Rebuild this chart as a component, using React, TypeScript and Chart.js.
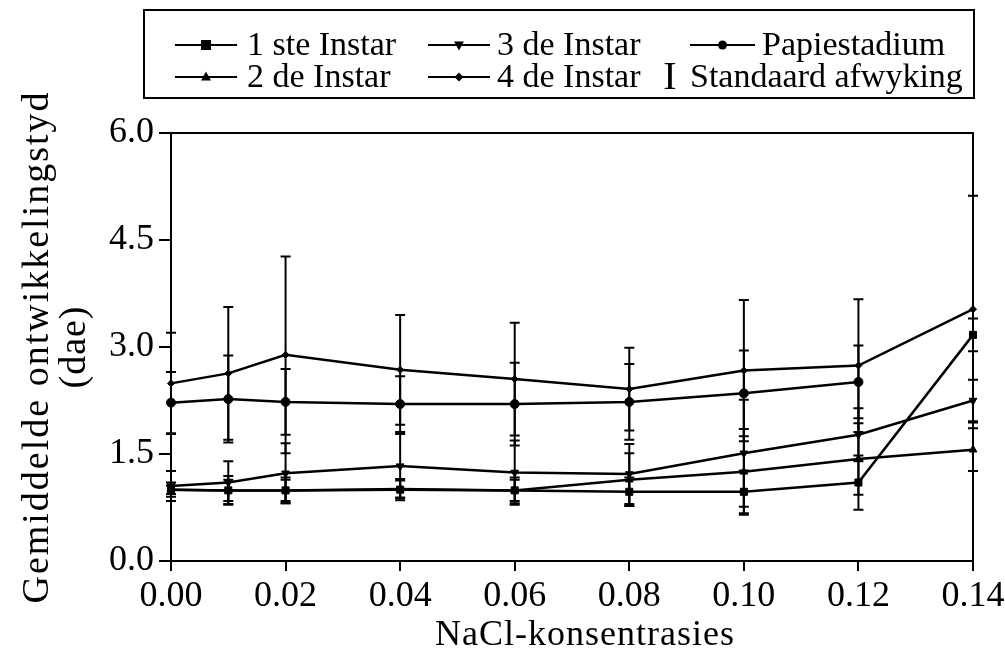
import { useEffect, useRef } from 'react';
import { Chart, registerables } from 'chart.js';

Chart.register(...registerables);

// NaCl concentrations (x values)
const concentrations = [0, 0.01, 0.02, 0.04, 0.06, 0.08, 0.1, 0.12, 0.14];
const xTickValues = [0, 0.02, 0.04, 0.06, 0.08, 0.1, 0.12, 0.14];
const yTickValues = [0, 1.5, 3, 4.5, 6];

// Mean development time (days) and standard deviations per stage
const instar1 = [1.0, 0.99, 0.99, 1.0, 0.99, 0.97, 0.97, 1.1, 3.17];
const instar1Sd = [0.1, 0.2, 0.18, 0.15, 0.18, 0.2, 0.3, 0.38, 0.23];
const instar2 = [1.0, 0.99, 0.99, 1.01, 0.99, 1.14, 1.25, 1.43, 1.56];
const instar2Sd = [0.06, 0.15, 0.15, 0.12, 0.15, 0.37, 0.6, 0.5, 0.3];
const instar3 = [1.05, 1.1, 1.23, 1.33, 1.24, 1.22, 1.51, 1.77, 2.25];
const instar3Sd = [0.21, 0.3, 0.42, 0.45, 0.45, 0.42, 0.75, 0.37, 0.29];
const instar4 = [2.49, 2.63, 2.89, 2.68, 2.55, 2.41, 2.67, 2.74, 3.53];
const instar4Sd = [0.71, 0.93, 1.38, 0.77, 0.79, 0.58, 0.99, 0.93, 1.59];
const pupa = [2.22, 2.27, 2.23, 2.2, 2.2, 2.23, 2.35, 2.51, null];
const pupaSd = [0.43, 0.61, 0.46, 0.39, 0.58, 0.53, 0.6, 0.51, null];

const seriesNames = ['1 ste Instar', '2 de Instar', '3 de Instar', '4 de Instar', 'Papiestadium'];
const errorLabel = 'Standaard afwyking';
const xTitle = 'NaCl-konsentrasies';
const yTitle = ['Gemiddelde ontwikkelingstyd', '(dae)'];

const FONT = '"Liberation Serif", "Times New Roman", serif';

type Marker = { style: any; radius: number; rotation: number };
const markers: Marker[] = [
  { style: 'rect', radius: 5, rotation: 0 },
  { style: 'triangle', radius: 4.5, rotation: 0 },
  { style: 'triangle', radius: 4.5, rotation: 180 },
  { style: 'rectRot', radius: 3.5, rotation: 0 },
  { style: 'circle', radius: 4.5, rotation: 0 },
];

const seriesValues = [instar1, instar2, instar3, instar4, pupa];
const seriesSds = [instar1Sd, instar2Sd, instar3Sd, instar4Sd, pupaSd];

const errorBarPlugin = {
  id: 'errorBars',
  afterDatasetsDraw(chart: any) {
    const { ctx, scales } = chart;
    const xs = scales.x;
    const ys = scales.y;
    ctx.save();
    ctx.strokeStyle = '#000';
    ctx.lineWidth = 2;
    chart.data.datasets.forEach((ds: any) => {
      const sds = ds.sd as (number | null)[];
      ds.data.forEach((p: any, i: number) => {
        if (p.y == null || sds[i] == null) return;
        const px = xs.getPixelForValue(p.x);
        const top = ys.getPixelForValue(p.y + (sds[i] as number));
        const bot = ys.getPixelForValue(p.y - (sds[i] as number));
        ctx.beginPath();
        ctx.moveTo(px, top);
        ctx.lineTo(px, bot);
        ctx.moveTo(px - 5, top);
        ctx.lineTo(px + 5, top);
        ctx.moveTo(px - 5, bot);
        ctx.lineTo(px + 5, bot);
        ctx.stroke();
      });
    });
    ctx.restore();
  },
};

function drawMarker(ctx: CanvasRenderingContext2D, m: Marker, x: number, y: number) {
  const r = m.radius;
  ctx.save();
  ctx.translate(x, y);
  ctx.rotate((m.rotation * Math.PI) / 180);
  ctx.fillStyle = '#000';
  ctx.beginPath();
  if (m.style === 'rect') {
    ctx.rect(-r, -r, 2 * r, 2 * r);
  } else if (m.style === 'triangle') {
    ctx.moveTo(0, -r * 1.2);
    ctx.lineTo(r * 1.1, r * 0.8);
    ctx.lineTo(-r * 1.1, r * 0.8);
    ctx.closePath();
  } else if (m.style === 'rectRot') {
    ctx.moveTo(0, -r * 1.3);
    ctx.lineTo(r * 1.3, 0);
    ctx.lineTo(0, r * 1.3);
    ctx.lineTo(-r * 1.3, 0);
    ctx.closePath();
  } else {
    ctx.arc(0, 0, r, 0, Math.PI * 2);
  }
  ctx.fill();
  ctx.restore();
}

const frameAndLegendPlugin = {
  id: 'frameLegend',
  afterDraw(chart: any) {
    const { ctx, chartArea } = chart;
    ctx.save();
    ctx.strokeStyle = '#000';
    ctx.lineWidth = 2;
    // top and right frame
    ctx.beginPath();
    ctx.moveTo(chartArea.left, chartArea.top);
    ctx.lineTo(chartArea.right, chartArea.top);
    ctx.lineTo(chartArea.right, chartArea.bottom);
    ctx.stroke();

    // legend box
    ctx.strokeRect(144, 10, 830, 88);
    const rows = [45, 77];
    const items = [
      { idx: 0, lx: 175, rx: 237, tx: 247, row: 0 },
      { idx: 2, lx: 428, rx: 490, tx: 497, row: 0 },
      { idx: 4, lx: 690, rx: 755, tx: 762, row: 0 },
      { idx: 1, lx: 175, rx: 237, tx: 247, row: 1 },
      { idx: 3, lx: 428, rx: 490, tx: 497, row: 1 },
    ];
    ctx.font = `34px ${FONT}`;
    ctx.fillStyle = '#000';
    ctx.textBaseline = 'middle';
    ctx.textAlign = 'left';
    items.forEach((it) => {
      const y = rows[it.row];
      ctx.lineWidth = 2;
      ctx.beginPath();
      ctx.moveTo(it.lx, y);
      ctx.lineTo(it.rx, y);
      ctx.stroke();
      drawMarker(ctx, markers[it.idx], (it.lx + it.rx) / 2, y);
      ctx.fillText(seriesNames[it.idx], it.tx, y + 1);
    });
    ctx.font = `40px ${FONT}`;
    ctx.textAlign = 'center';
    ctx.fillText('I', 670, rows[1] + 1);
    ctx.font = `34px ${FONT}`;
    ctx.textAlign = 'left';
    ctx.fillText(errorLabel, 690, rows[1] + 1);

    // axis titles
    ctx.textAlign = 'center';
    ctx.textBaseline = 'middle';
    ctx.font = `36px ${FONT}`;
    (ctx as any).letterSpacing = '1px';
    ctx.fillText(xTitle, 585, 636);

    const cy = (chartArea.top + chartArea.bottom) / 2;
    ctx.font = `38px ${FONT}`;
    (ctx as any).letterSpacing = '2px';
    ctx.translate(38, cy);
    ctx.rotate(-Math.PI / 2);
    ctx.fillText(yTitle[0], 0, 0);
    ctx.rotate(Math.PI / 2);
    ctx.translate(37, 0);
    ctx.rotate(-Math.PI / 2);
    (ctx as any).letterSpacing = '1px';
    ctx.fillText(yTitle[1], 0, 0);
    ctx.restore();
  },
};

export default function App() {
  const ref = useRef<HTMLCanvasElement | null>(null);
  useEffect(() => {
    if (!ref.current) return;
    const datasets = seriesValues.map((vals, si) => ({
      label: seriesNames[si],
      data: concentrations.map((x, i) => ({ x, y: vals[i] })),
      sd: seriesSds[si],
      borderColor: '#000',
      backgroundColor: '#000',
      borderWidth: 2.5,
      pointStyle: markers[si].style,
      pointRadius: markers[si].radius,
      pointRotation: markers[si].rotation,
      pointBorderWidth: 1,
      tension: 0,
      clip: false as any,
      spanGaps: false,
    }));
    const chart = new Chart(ref.current, {
      type: 'line',
      data: { datasets: datasets as any },
      options: {
        responsive: false,
        animation: false,
        events: [],
        layout: { padding: { top: 133, right: 32, left: 0, bottom: 0 } },
        plugins: { legend: { display: false }, tooltip: { enabled: false } },
        scales: {
          x: {
            type: 'linear',
            min: 0,
            max: 0.14,
            afterBuildTicks: (s: any) => {
              s.ticks = xTickValues.map((v) => ({ value: v }));
            },
            ticks: {
              color: '#000',
              font: { family: FONT, size: 36 },
              padding: 4,
              maxRotation: 0,
              autoSkip: false,
              callback: (v: any) => Number(v).toFixed(2),
            },
            grid: { display: true, drawOnChartArea: false, drawTicks: true, tickLength: 10, color: '#000', lineWidth: 2 },
            border: { display: true, color: '#000', width: 2 },
            afterFit: (s: any) => {
              s.height = 99;
              s.paddingLeft = 0;
              s.paddingRight = 0;
            },
          },
          y: {
            type: 'linear',
            min: 0,
            max: 6,
            afterBuildTicks: (s: any) => {
              s.ticks = yTickValues.map((v) => ({ value: v }));
            },
            ticks: {
              color: '#000',
              font: { family: FONT, size: 36 },
              padding: 5,
              callback: (v: any) => Number(v).toFixed(1),
            },
            grid: { display: true, drawOnChartArea: false, drawTicks: true, tickLength: 12, color: '#000', lineWidth: 2 },
            border: { display: true, color: '#000', width: 2 },
            afterFit: (s: any) => {
              s.width = 171;
              s.paddingTop = 0;
              s.paddingBottom = 0;
            },
          },
        },
      },
      plugins: [errorBarPlugin, frameAndLegendPlugin],
    });
    return () => chart.destroy();
  }, []);
  return (
    <div style={{ position: 'absolute', left: 0, top: 0, width: 1005, height: 660, background: '#fff' }}>
      <canvas ref={ref} width={1005} height={660} />
    </div>
  );
}
